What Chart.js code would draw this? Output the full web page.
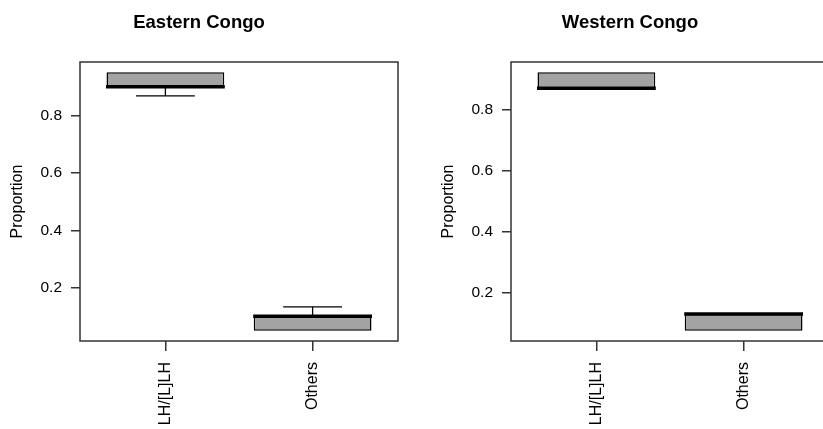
<!DOCTYPE html>
<html>
<head>
<meta charset="utf-8">
<script src="https://cdn.jsdelivr.net/npm/chart.js@4.4.1/dist/chart.umd.min.js"></script>
<style>
  html, body { margin: 0; padding: 0; background: #fff; }
  body { width: 823px; height: 429px; overflow: hidden; position: relative; }
  canvas { position: absolute; top: 0; }
  #chartEste { left: 0; }
  #chartOeste { left: 431px; }
</style>
</head>
<body>
<canvas id="chartEste" width="411" height="429"></canvas>
<canvas id="chartOeste" width="411" height="429"></canvas>
<script>
const categorias = ['LH/[L]LH', 'Others'];
const yTicks = [0.2, 0.4, 0.6, 0.8];

// Eastern Congo (cuartiles)
const esteMin = [0.868, 0.051];
const esteQ1 = [0.900, 0.051];
const esteMediana = [0.900, 0.101];
const esteQ3 = [0.950, 0.101];
const esteMax = [0.950, 0.1335];

// Western Congo
const oesteMin = [0.870, 0.074];
const oesteQ1 = [0.870, 0.074];
const oesteMediana = [0.870, 0.129];
const oesteQ3 = [0.922, 0.129];
const oesteMax = [0.922, 0.129];

const fuente = "'Liberation Sans', Arial, sans-serif";
const colorMarco = '#333333';

const partesCaja = {
    id: 'partesCaja',
    afterDatasetsDraw(chart) {
        const ctx = chart.ctx;
        const y = chart.scales.y;
        const st = chart.options.plugins.partesCaja;
        const meta = chart.getDatasetMeta(0);
        ctx.save();
        meta.data.forEach((bar, i) => {
            const x = bar.x;
            const w = bar.width;
            const yQ1 = y.getPixelForValue(st.q1[i]);
            const yQ3 = y.getPixelForValue(st.q3[i]);
            const yMin = y.getPixelForValue(st.min[i]);
            const yMax = y.getPixelForValue(st.max[i]);
            ctx.strokeStyle = '#000';
            ctx.lineWidth = 1.3;
            // bigotes
            if (st.min[i] < st.q1[i]) {
                ctx.beginPath();
                ctx.moveTo(x, yQ1); ctx.lineTo(x, yMin);
                ctx.moveTo(x - w / 4, yMin); ctx.lineTo(x + w / 4, yMin);
                ctx.stroke();
            }
            if (st.max[i] > st.q3[i]) {
                ctx.beginPath();
                ctx.moveTo(x, yQ3); ctx.lineTo(x, yMax);
                ctx.moveTo(x - w / 4, yMax); ctx.lineTo(x + w / 4, yMax);
                ctx.stroke();
            }
            // mediana
            const yMed = y.getPixelForValue(st.mediana[i]);
            ctx.lineWidth = 3.5;
            ctx.beginPath();
            ctx.moveTo(x - w / 2 - 0.5, yMed);
            ctx.lineTo(x + w / 2 + 0.5, yMed);
            ctx.stroke();
        });
        // marco
        const a = chart.chartArea;
        ctx.strokeStyle = colorMarco;
        ctx.lineWidth = 1.5;
        ctx.strokeRect(a.left, a.top, a.right - a.left, a.bottom - a.top);
        ctx.restore();
    }
};

function crearBoxplot(id, titulo, min, q1, mediana, q3, max) {
    const todos = min.concat(max);
    const lo = Math.min(...todos), hi = Math.max(...todos);
    const ext = (hi - lo) * 0.04;
    const ctx = document.getElementById(id).getContext('2d');
    return new Chart(ctx, {
        type: 'bar',
        data: {
            datasets: [{
                data: categorias.map((c, i) => ({ x: i + 1, y: [q1[i], q3[i]] })),
                backgroundColor: '#a3a3a3',
                borderColor: '#000',
                borderWidth: 1.5,
                borderSkipped: false,
                categoryPercentage: 1,
                barPercentage: 0.8
            }]
        },
        options: {
            responsive: false,
            animation: false,
            devicePixelRatio: 1,
            layout: { padding: { left: 0, right: 13, top: 0, bottom: 0 } },
            plugins: {
                legend: { display: false },
                tooltip: { enabled: false },
                title: {
                    display: true,
                    text: titulo,
                    color: '#000',
                    font: { family: fuente, size: 18.5, weight: 'bold' },
                    padding: { top: 11.5, bottom: 28.3 }
                },
                partesCaja: { min: min, q1: q1, mediana: mediana, q3: q3, max: max }
            },
            scales: {
                x: {
                    type: 'linear',
                    min: 0.42,
                    max: 2.58,
                    offset: false,
                    afterBuildTicks: s => { s.ticks = categorias.map((c, i) => ({ value: i + 1 })); },
                    afterFit: s => { s.height = 88; },
                    grid: { offset: false, drawOnChartArea: false, drawTicks: true, tickLength: 10, color: colorMarco, lineWidth: 1.5 },
                    border: { display: false },
                    ticks: {
                        autoSkip: false,
                        maxRotation: 90,
                        minRotation: 90,
                        padding: 11,
                        color: '#000',
                        font: { family: fuente, size: 16 },
                        callback: v => categorias[v - 1]
                    }
                },
                y: {
                    type: 'linear',
                    min: lo - ext,
                    max: hi + ext,
                    afterBuildTicks: s => { s.ticks = yTicks.map(v => ({ value: v })); },
                    afterFit: s => { s.width = 80; },
                    grid: { drawOnChartArea: false, drawTicks: true, tickLength: 9, color: colorMarco, lineWidth: 1.5 },
                    border: { display: false },
                    title: {
                        display: true,
                        text: 'Proportion',
                        color: '#000',
                        font: { family: fuente, size: 16 },
                        padding: { top: 8, bottom: 0 }
                    },
                    ticks: {
                        padding: 9,
                        color: '#000',
                        font: { family: fuente, size: 15.5 },
                        callback: v => v.toFixed(1)
                    }
                }
            }
        },
        plugins: [partesCaja]
    });
}

document.addEventListener('DOMContentLoaded', () => {
    crearBoxplot('chartEste', 'Eastern Congo', esteMin, esteQ1, esteMediana, esteQ3, esteMax);
    crearBoxplot('chartOeste', 'Western Congo', oesteMin, oesteQ1, oesteMediana, oesteQ3, oesteMax);
});
</script>
</body>
</html>
